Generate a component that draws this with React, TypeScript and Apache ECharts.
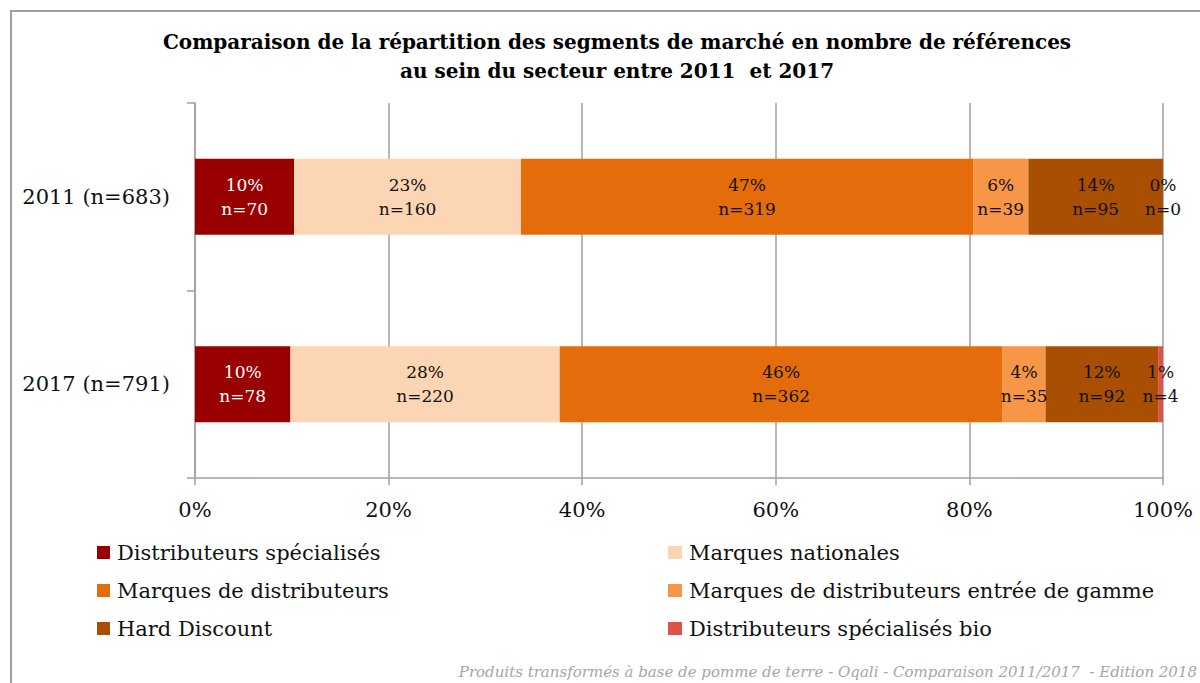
import React, { useEffect, useRef } from "react";
import * as echarts from "echarts";

const categories = ["2011 (n=683)", "2017 (n=791)"];
const totals = [683, 791];
const seriesNames = [
  "Distributeurs spécialisés",
  "Marques nationales",
  "Marques de distributeurs",
  "Marques de distributeurs entrée de gamme",
  "Hard Discount",
  "Distributeurs spécialisés bio",
];
const seriesColors = ["#990000", "#fcd5b5", "#e46c0a", "#f79646", "#a84f04", "#dd5347"];
// counts per segment: [2011, 2017]
const distSpec = [70, 78];
const marquesNat = [160, 220];
const mdd = [319, 362];
const mddEntree = [39, 35];
const hardDiscount = [95, 92];
const distBio = [0, 4];
const seriesCounts = [distSpec, marquesNat, mdd, mddEntree, hardDiscount, distBio];
const xTicks = [0, 20, 40, 60, 80, 100];

const FONT = "'DejaVu Serif', serif";

export default function App() {
  const ref = useRef<HTMLDivElement>(null);
  useEffect(() => {
    document.body.style.margin = "0";
    const chart = echarts.init(ref.current!, null, { renderer: "svg" });
    const series = seriesNames.map((name, si) => ({
      name,
      type: "bar",
      stack: "total",
      barWidth: 76,
      clip: false,
      itemStyle: { color: seriesColors[si] },
      label: {
        show: true,
        position: "inside",
        fontFamily: FONT,
        fontSize: 17,
        lineHeight: 24,
        color: si === 0 ? "#ffffff" : "#111111",
        formatter: (p: any) => {
          const n = seriesCounts[si][p.dataIndex];
          return Math.round(p.value) + "%\nn=" + n;
        },
      },
      data: seriesCounts[si].map((n, ci) => (n / totals[ci]) * 100),
    }));
    chart.setOption({
      animation: false,
      title: {
        text: "Comparaison de la répartition des segments de marché en nombre de références\nau sein du secteur entre 2011  et 2017",
        left: 612,
        textAlign: "center",
        top: 22,
        textStyle: { fontFamily: FONT, fontWeight: "bold", fontSize: 20, lineHeight: 29, color: "#000" },
      },
      grid: { left: 195, right: 37, top: 103, height: 375 },
      xAxis: {
        type: "value",
        min: 0,
        max: 100,
        interval: 20,
        axisLine: { show: true, lineStyle: { color: "#a0a0a0", width: 1.5 } },
        axisTick: { show: true, length: 7, lineStyle: { color: "#a0a0a0", width: 1.5 } },
        splitLine: { show: true, lineStyle: { color: "#a0a0a0", width: 1.5 } },
        axisLabel: {
          formatter: (v: number) => (xTicks.includes(v) ? v + "%" : ""),
          fontFamily: FONT,
          fontSize: 21,
          color: "#111",
          margin: 21,
        },
      },
      yAxis: {
        type: "category",
        inverse: true,
        data: categories,
        axisLine: { show: true, lineStyle: { color: "#a0a0a0", width: 1.5 } },
        axisTick: { show: true, length: 8, lineStyle: { color: "#a0a0a0", width: 1.5 } },
        axisLabel: { fontFamily: FONT, fontSize: 21, color: "#111", margin: 25 },
      },
      legend: [
        {
          orient: "vertical",
          left: 97,
          top: 542,
          padding: 0,
          itemWidth: 13,
          itemHeight: 13,
          itemGap: 17,
          icon: "rect",
          data: [seriesNames[0], seriesNames[2], seriesNames[4]],
          textStyle: { fontFamily: FONT, fontSize: 21, lineHeight: 20, color: "#111", padding: [0, 0, 0, 2] },
        },
        {
          orient: "vertical",
          left: 668,
          top: 542,
          padding: 0,
          itemWidth: 14,
          itemHeight: 13,
          itemGap: 17,
          icon: "rect",
          data: [seriesNames[1], seriesNames[3], seriesNames[5]],
          textStyle: { fontFamily: FONT, fontSize: 21, lineHeight: 20, color: "#111", padding: [0, 0, 0, 2] },
        },
      ],
      graphic: [
        {
          type: "rect",
          shape: { x: 11, y: 11, width: 1200, height: 700 },
          style: { fill: "none", stroke: "#a0a0a0", lineWidth: 2 },
          silent: true,
        },
        {
          type: "text",
          x: 1197,
          y: 672,
          style: {
            text: "Produits transformés à base de pomme de terre - Oqali - Comparaison 2011/2017  - Edition 2018",
            fontFamily: FONT,
            fontStyle: "italic",
            fontSize: 15,
            fill: "#a6a6a6",
            textAlign: "right",
            textVerticalAlign: "middle",
          },
        },
      ],
      series,
    });
    return () => chart.dispose();
  }, []);
  return <div ref={ref} style={{ width: 1200, height: 683 }} />;
}
